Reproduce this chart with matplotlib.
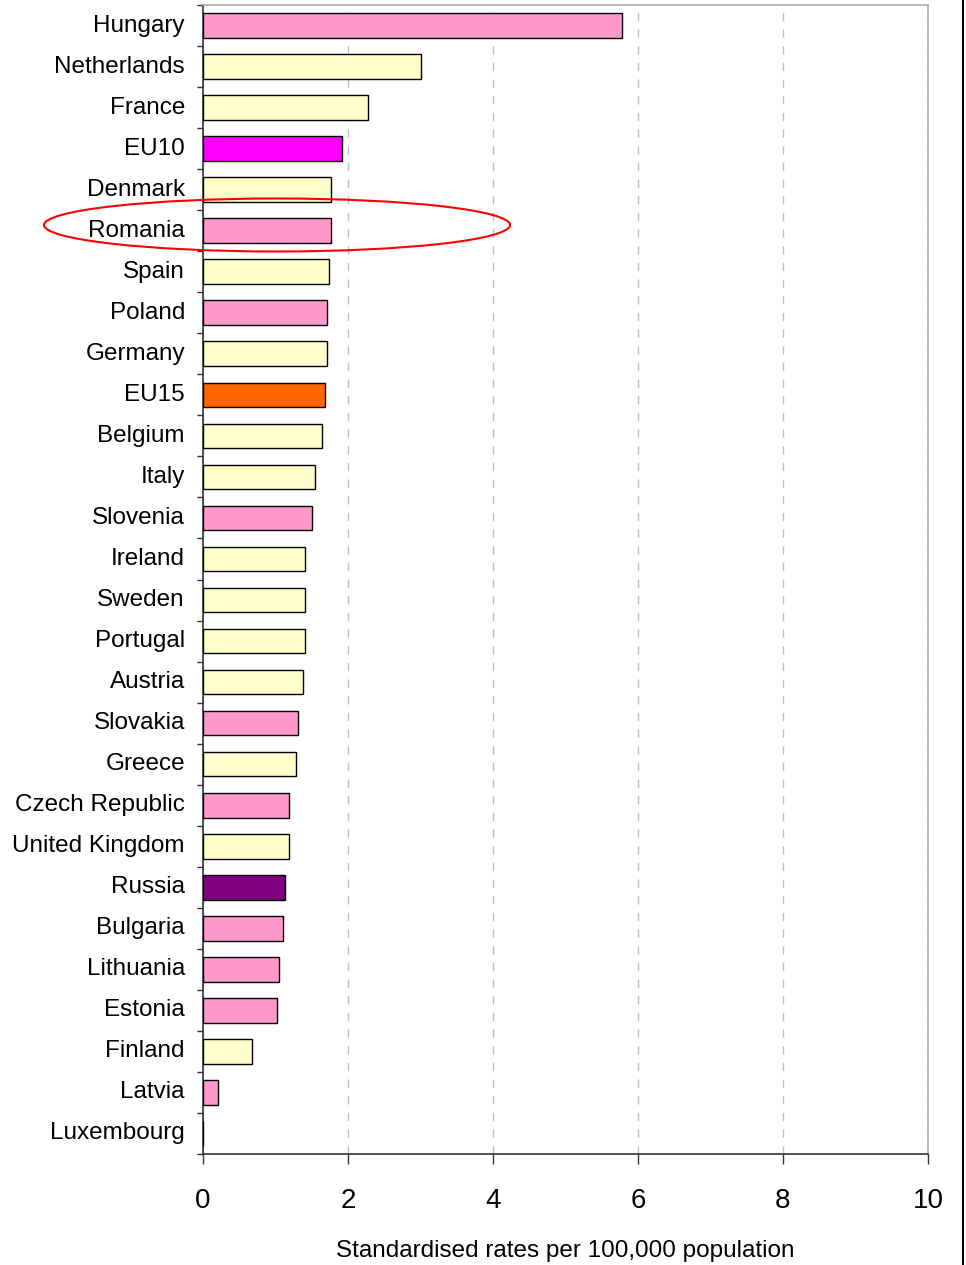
import matplotlib
matplotlib.use("Agg")
import matplotlib.pyplot as plt
from matplotlib.patches import Ellipse
from matplotlib.lines import Line2D
from matplotlib.ticker import FixedLocator

plt.rcParams['font.family'] = ['Liberation Sans', 'DejaVu Sans']

# data, top to bottom
countries = ['Hungary', 'Netherlands', 'France', 'EU10', 'Denmark', 'Romania',
             'Spain', 'Poland', 'Germany', 'EU15', 'Belgium', 'Italy', 'Slovenia',
             'Ireland', 'Sweden', 'Portugal', 'Austria', 'Slovakia', 'Greece',
             'Czech Republic', 'United Kingdom', 'Russia', 'Bulgaria', 'Lithuania',
             'Estonia', 'Finland', 'Latvia', 'Luxembourg']
rates = [5.78, 3.01, 2.28, 1.92, 1.77, 1.77, 1.74, 1.71, 1.71, 1.68, 1.64, 1.54,
         1.50, 1.41, 1.41, 1.41, 1.38, 1.31, 1.28, 1.19, 1.19, 1.13, 1.10, 1.05,
         1.02, 0.68, 0.21, 0.0]
groups = ['new', 'old', 'old', 'eu10', 'old', 'new', 'old', 'new', 'old', 'eu15',
          'old', 'old', 'new', 'old', 'old', 'old', 'old', 'new', 'old', 'new',
          'old', 'russia', 'new', 'new', 'new', 'old', 'new', 'old']
xticks = [0, 2, 4, 6, 8, 10]

group_colors = {'new': '#FF99CC', 'old': '#FFFFCC', 'eu10': '#FF00FF',
                'eu15': '#FF6600', 'russia': '#800080'}

fig = plt.figure(figsize=(9.66, 12.65), dpi=100)
ax = fig.add_axes([203/966, 1 - 1154/1265, 725/966, 1149/1265])

ypos = list(range(len(countries)))
ax.barh(ypos, rates, height=0.6, color=[group_colors[g] for g in groups],
        edgecolor='black', linewidth=1.0, zorder=3)

ax.set_ylim(len(countries) - 0.5, -0.5)
ax.set_xlim(0, 10)
ax.set_yticks(ypos)
ax.set_yticklabels(countries, fontsize=17.5, va='center')
ax.yaxis.set_minor_locator(FixedLocator([i - 0.5 for i in range(len(countries) + 1)]))
ax.tick_params(axis='y', which='major', length=0, pad=13)
ax.tick_params(axis='y', which='minor', length=4.5, width=1, color='#333333')

ax.set_xticks(xticks)
ax.set_xticklabels([str(t) for t in xticks], fontsize=20)
ax.tick_params(axis='x', length=7.2, width=1, color='#333333', pad=17)

ax.grid(axis='x', color='#C0C0C0', linestyle=(0, (6, 6)), linewidth=1, zorder=0)
for s in ['top', 'right']:
    ax.spines[s].set_color('#B0B0B0')
    ax.spines[s].set_linewidth(1.2)
for s in ['left', 'bottom']:
    ax.spines[s].set_color('#333333')
    ax.spines[s].set_linewidth(1.2)

ax.set_xlabel('Standardised rates per 100,000 population', fontsize=17.5, labelpad=19)

# red ellipse around Romania (figure pixels)
ell = Ellipse((277/966, 1 - 225/1265), 466/966, 53/1265, transform=fig.transFigure,
              fill=False, edgecolor='red', linewidth=1.5)
fig.patches.append(ell)

# cropped edge line at the far right
fig.lines.append(Line2D([963/966, 963/966], [0, 1], transform=fig.transFigure,
                        color='black', linewidth=1.5))

fig.savefig('out.png', dpi=100)
